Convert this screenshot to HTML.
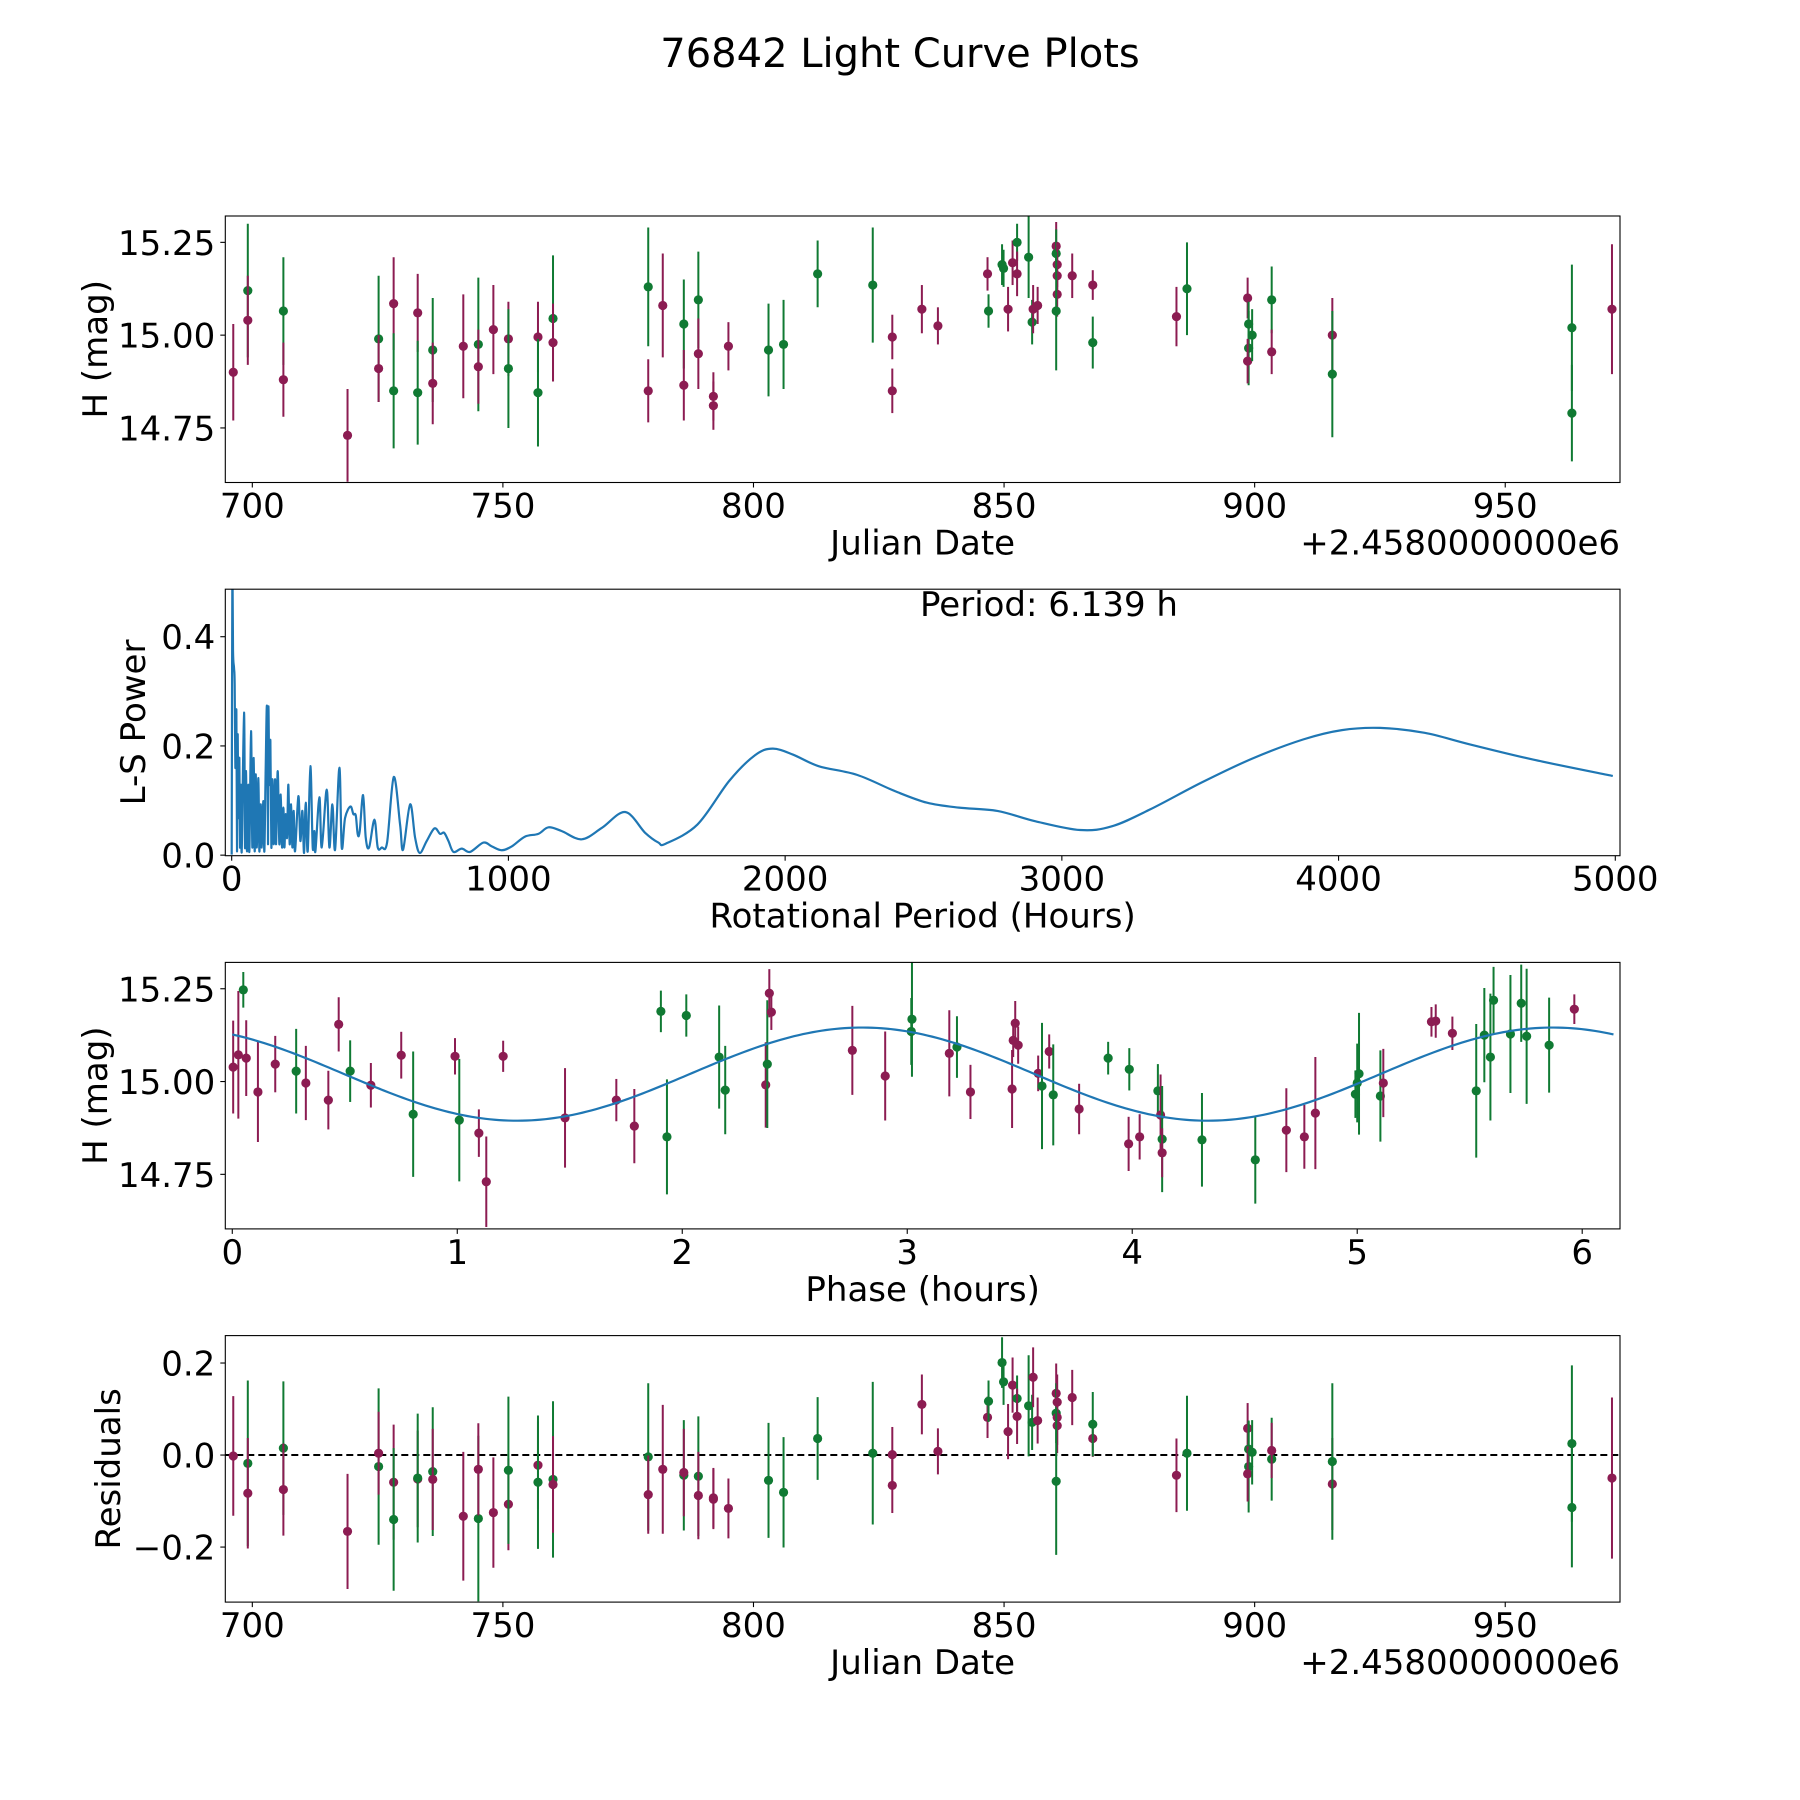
<!DOCTYPE html>
<html><head><meta charset="utf-8"><title>76842 Light Curve Plots</title>
<style>html,body{margin:0;padding:0;background:#fff}svg{display:block}text{font-family:"DejaVu Sans","Liberation Sans",sans-serif;fill:#000}</style>
</head><body>
<svg id="fig" xmlns="http://www.w3.org/2000/svg" width="1800" height="1800" viewBox="0 0 1800 1800">
<rect width="1800" height="1800" fill="#fff"/>
<text x="900" y="67" font-size="40" text-anchor="middle">76842 Light Curve Plots</text>
</svg>
<script>
// ---- Light curve data (JD offset from 2458000) ----
const jd = [696.2,699.1,699.1,706.2,706.2,719.0,725.2,725.2,728.2,728.2,733.0,733.0,736.0,736.0,742.1,745.1,745.1,748.1,751.1,751.1,757.0,757.0,760.0,760.0,779.0,779.0,781.9,786.1,786.1,789.0,789.0,792.0,792.0,795.0,803.0,806.0,812.8,823.8,827.7,827.7,833.6,836.8,846.7,846.9,849.6,849.9,850.8,851.7,852.6,852.6,854.9,855.6,855.8,856.7,860.4,860.4,860.6,860.6,860.6,860.4,863.6,867.7,867.7,884.4,886.5,898.6,898.8,898.8,898.6,899.5,903.4,903.4,915.5,915.5,963.3,963.3,971.3];
const mag = [14.90,15.12,15.04,15.065,14.88,14.73,14.99,14.91,15.085,14.85,15.06,14.845,14.96,14.87,14.97,14.975,14.915,15.015,14.99,14.91,14.995,14.845,15.045,14.98,15.13,14.85,15.08,15.03,14.865,15.095,14.95,14.835,14.81,14.97,14.96,14.975,15.165,15.135,14.995,14.85,15.07,15.025,15.165,15.065,15.19,15.18,15.07,15.195,15.25,15.165,15.21,15.035,15.07,15.08,15.24,15.22,15.19,15.16,15.11,15.065,15.16,15.135,14.98,15.05,15.125,15.10,15.03,14.965,14.93,15.00,15.095,14.955,15.00,14.895,15.02,14.79,15.07];
const magErr = [0.13,0.18,0.12,0.145,0.10,0.125,0.17,0.09,0.125,0.155,0.105,0.14,0.14,0.11,0.14,0.18,0.10,0.12,0.10,0.16,0.095,0.145,0.17,0.105,0.16,0.085,0.14,0.12,0.095,0.13,0.095,0.065,0.065,0.065,0.125,0.12,0.09,0.155,0.06,0.06,0.065,0.05,0.045,0.045,0.055,0.05,0.06,0.06,0.05,0.06,0.11,0.06,0.065,0.05,0.065,0.065,0.06,0.06,0.06,0.16,0.06,0.04,0.07,0.08,0.125,0.055,0.06,0.10,0.06,0.07,0.09,0.06,0.10,0.17,0.17,0.13,0.175];
const band = [0,1,0,1,0,0,1,0,0,1,0,1,1,0,0,1,0,0,0,1,0,1,1,0,1,0,0,1,0,1,0,0,0,0,1,1,1,1,0,0,0,0,0,1,1,1,0,0,1,0,1,1,0,0,0,1,0,0,0,1,0,0,1,0,1,0,1,1,0,1,1,0,0,1,1,1,0];
const resid = [-0.002,-0.018,-0.083,0.015,-0.075,-0.166,-0.025,0.004,-0.059,-0.14,-0.052,-0.05,-0.036,-0.053,-0.133,-0.138,-0.031,-0.125,-0.107,-0.033,-0.022,-0.059,-0.053,-0.064,-0.004,-0.086,-0.031,-0.044,-0.038,-0.046,-0.088,-0.093,-0.096,-0.116,-0.055,-0.081,0.036,0.004,0.001,-0.066,0.110,0.008,0.082,0.117,0.201,0.159,0.051,0.152,0.123,0.084,0.107,0.071,0.169,0.075,0.134,0.091,0.115,0.082,0.064,-0.057,0.125,0.036,0.067,-0.044,0.004,0.058,0.013,-0.025,-0.041,0.006,-0.009,0.010,-0.063,-0.014,0.025,-0.114,-0.050];
// ---- Phase-folded data ----
const phase = [0.004,0.027,0.049,0.062,0.114,0.191,0.284,0.327,0.427,0.473,0.524,0.616,0.751,0.804,0.990,1.009,1.096,1.129,1.204,1.479,1.707,1.787,1.905,1.932,2.018,2.164,2.191,2.371,2.378,2.387,2.396,2.756,2.902,3.021,3.018,3.187,3.221,3.281,3.466,3.471,3.480,3.493,3.582,3.599,3.631,3.649,3.764,3.893,3.987,3.984,4.033,4.114,4.126,4.133,4.133,4.310,4.547,4.685,4.765,4.814,4.992,5.000,5.008,5.103,5.116,5.330,5.349,5.423,5.529,5.565,5.592,5.606,5.681,5.729,5.753,5.853,5.965];
const phMag = [15.039,15.072,15.247,15.063,14.972,15.047,15.028,14.996,14.950,15.154,15.028,14.990,15.071,14.912,15.068,14.896,14.861,14.730,15.068,14.902,14.950,14.880,15.189,14.851,15.178,15.066,14.977,14.991,15.047,15.238,15.187,15.084,15.015,15.168,15.135,15.076,15.093,14.972,14.980,15.111,15.157,15.098,15.022,14.988,15.081,14.964,14.926,15.063,15.033,14.832,14.851,14.975,14.910,14.845,14.808,14.843,14.789,14.869,14.851,14.915,14.966,14.996,15.021,14.961,14.996,15.161,15.163,15.130,14.975,15.125,15.066,15.219,15.128,15.211,15.122,15.098,15.195];
const phErr = [0.125,0.172,0.048,0.102,0.135,0.076,0.114,0.10,0.079,0.073,0.083,0.060,0.063,0.169,0.049,0.165,0.064,0.122,0.042,0.134,0.057,0.10,0.056,0.155,0.057,0.139,0.119,0.115,0.172,0.065,0.048,0.12,0.12,0.155,0.09,0.116,0.083,0.073,0.105,0.045,0.06,0.05,0.048,0.17,0.046,0.136,0.068,0.044,0.057,0.073,0.061,0.072,0.109,0.143,0.066,0.126,0.118,0.113,0.086,0.151,0.064,0.106,0.164,0.123,0.092,0.04,0.045,0.045,0.18,0.127,0.171,0.09,0.159,0.104,0.182,0.128,0.04];
const phBand = [0,0,1,0,0,0,1,0,0,0,1,0,0,1,0,1,0,0,0,0,0,0,1,1,1,1,1,0,1,0,0,0,0,1,1,0,1,0,0,0,0,0,0,1,0,1,0,1,1,0,0,1,0,1,0,1,1,0,0,0,1,1,1,1,0,0,0,0,1,1,1,1,1,1,1,1,0];
// ---- Fitted sinusoid (model) ----
const fitMean = 15.02, fitAmp = 0.1255, fitPeak = 2.80, fitPeriod = 6.139;
// ---- Lomb-Scargle periodogram ----
const lsHours = [0,2.4,4.8,8.4,10.8,13.3,16.9,19.3,21.7,24.1,27.7,30.1,33.7,36.2,44.6,48.2,51.8,55.4,60.3,63.9,69.9,74.7,79.5,83.1,86.8,90.4,96.4,100,104.8,108.5,114.5,118.1,122.9,127.7,131.3,132.6,136.2,139.8,143.4,147,151.8,156.7,160.3,166.3,172.3,177.1,182,186.8,190.4,195.2,200,204.8,209.6,214.5,219.3,224.1,228.9,241,248.2,255.5,261.5,267.5,274.7,284.4,292.8,298.8,302.5,316.9,325.4,343.4,353.1,363.9,373.6,389.2,397.7,409.7,429,439.8,448.3,455.5,462.7,474.8,484.4,496.5,515.7,527.8,542.3,561.5,585.6,608.5,619.4,644.7,662.8,679.6,704.9,732.6,753.1,767.6,783.3,801.3,831.5,861.6,909.8,939.9,976.1,1012,1060,1108,1145,1193,1265,1338,1422,1494,1542,1568,1683,1798,1891,1955,2029,2121,2260,2398,2513,2628,2767,2905,3066,3182,3320,3505,3689,3873,4012,4150,4311,4473,4703,4991];
const lsPower = [0.001,0.52,0.374,0.343,0.313,0.160,0.264,0.007,0.221,0.068,0.178,0.014,0.129,0.007,0.261,0.014,0.154,0.007,0.129,0.007,0.227,0.014,0.178,0.007,0.148,0.014,0.141,0.007,0.093,0.014,0.099,0.007,0.160,0.270,0.020,0.271,0.129,0.209,0.014,0.139,0.020,0.139,0.020,0.154,0.020,0.111,0.014,0.087,0.014,0.075,0.032,0.129,0.020,0.093,0.014,0.081,0.007,0.108,0.026,0.081,0.004,0.096,0.007,0.163,0.014,0.044,0.007,0.106,0.014,0.120,0.014,0.093,0.010,0.160,0.014,0.068,0.089,0.075,0.073,0.038,0.044,0.110,0.032,0.014,0.065,0.014,0.014,0.023,0.143,0.056,0.010,0.093,0.032,0.004,0.026,0.049,0.039,0.041,0.026,0.006,0.012,0.006,0.023,0.016,0.009,0.016,0.034,0.039,0.051,0.044,0.029,0.050,0.079,0.041,0.023,0.021,0.056,0.136,0.183,0.195,0.184,0.163,0.147,0.117,0.096,0.087,0.081,0.062,0.046,0.053,0.084,0.133,0.177,0.212,0.229,0.233,0.224,0.203,0.175,0.145];
const jdTicks = [700,750,800,850,900,950];
const magTicks = [14.75,15.00,15.25];
const magTickLabels = ["14.75","15.00","15.25"];
const lsXTicks = [0,1000,2000,3000,4000,5000];
const lsYTicks = [0.0,0.2,0.4];
const lsYTickLabels = ["0.0","0.2","0.4"];
const phTicks = [0,1,2,3,4,5,6];
const resTicks = [-0.2,0.0,0.2];
const resTickLabels = ["\u22120.2","0.0","0.2"];

const NS = "http://www.w3.org/2000/svg";
const svg = document.getElementById("fig");
const COL = ["#8c1c52","#107a33"];
const L = 225.3, R = 1620, H = 266.5;
const tops = [216, 589.2, 962.4, 1335.6];
function mk(tag, attrs, parent){ const e=document.createElementNS(NS,tag); for(const k in attrs) e.setAttribute(k,attrs[k]); (parent||svg).appendChild(e); return e; }
function lin(d0,d1,r0,r1){ return v => r0 + (v-d0)*(r1-r0)/(d1-d0); }

function makePanel(i, xd, yd, name){
  const top = tops[i], bot = top+H;
  const g = mk("g",{});
  
  
  const cp = mk("clipPath",{id:"clip"+i}, g);
  mk("rect",{x:L,y:top,width:R-L,height:H}, cp);
  const plot = mk("g",{"clip-path":"url(#clip"+i+")"}, g);
  
  
  return {g, plot, top, bot, x: lin(xd[0],xd[1],L,R), y: lin(yd[0],yd[1],bot,top)};
}
function frame(p, name){
  const r = mk("rect",{x:L,y:p.top,width:R-L,height:H,fill:"none",stroke:"#000","stroke-width":1.1}, p.g);
  
  
}
function xTicks(p, vals, labels, name){
  vals.forEach((v,k)=>{
    const X = p.x(v);
    const t = mk("line",{x1:X,x2:X,y1:p.bot,y2:p.bot+5,stroke:"#000","stroke-width":1.1}, p.g);
    
    
    const tx = mk("text",{x:X,y:p.bot+35,"font-size":34,"text-anchor":"middle"}, p.g);
    tx.textContent = labels[k];
    
    
  });
}
function yTicks(p, vals, labels, name){
  vals.forEach((v,k)=>{
    const Y = p.y(v);
    const t = mk("line",{x1:L-5,x2:L,y1:Y,y2:Y,stroke:"#000","stroke-width":1.1}, p.g);
    
    
    const tx = mk("text",{x:L-10,y:Y+12.5,"font-size":34,"text-anchor":"end"}, p.g);
    tx.textContent = labels[k];
    
    
  });
}
function labels(p, xl, yl, ylx, name, offset){
  const a = mk("text",{x:(L+R)/2,y:p.bot+72,"font-size":34,"text-anchor":"middle"}, p.g);
  a.textContent = xl;
  
  
  const cy = (p.top+p.bot)/2;
  const b = mk("text",{x:ylx,y:cy,"font-size":34,"text-anchor":"middle",transform:"rotate(-90 "+ylx+" "+cy+")"}, p.g);
  b.textContent = yl;
  
  
  if(offset){
    const o = mk("text",{x:R,y:p.bot+72,"font-size":34,"text-anchor":"end"}, p.g);
    o.textContent = offset;
    
    
  }
}
function errPoints(p, xs, ys, es, bs, name){
  xs.forEach((xv,k)=>{
    const X = p.x(xv);
    const ln = mk("line",{x1:X,x2:X,y1:p.y(ys[k]-es[k]),y2:p.y(ys[k]+es[k]),stroke:COL[bs[k]],"stroke-width":2}, p.plot);
    
    
    const c = mk("circle",{cx:X,cy:p.y(ys[k]),r:4.6,fill:COL[bs[k]]}, p.plot);
    
    
  });
}

// Panel 1: light curve
const p1 = makePanel(0,[694.61,972.9],[14.603,15.321],"light-curve-panel");
errPoints(p1, jd, mag, magErr, band, "light-curve");
frame(p1,"light-curve");
xTicks(p1, jdTicks, jdTicks.map(String), "light-curve");
yTicks(p1, magTicks, magTickLabels, "light-curve");
labels(p1, "Julian Date", "H (mag)", 107, "light-curve", "+2.4580000000e6");

// Panel 2: periodogram (Catmull-Rom smoothed through read points)
const p2 = makePanel(1,[-23.1,5017],[-0.001,0.487],"periodogram-panel");
const pts = lsHours.map((h,k)=>[p2.x(h), p2.y(lsPower[k])]);
let lsPath = "M"+pts[0][0].toFixed(2)+","+pts[0][1].toFixed(2);
for(let k=0;k<pts.length-1;k++){
  const a=pts[Math.max(0,k-1)], b=pts[k], c=pts[k+1], d=pts[Math.min(pts.length-1,k+2)];
  const c1=[b[0]+(c[0]-a[0])/6, b[1]+(c[1]-a[1])/6], c2=[c[0]-(d[0]-b[0])/6, c[1]-(d[1]-b[1])/6];
  lsPath += "C"+c1[0].toFixed(2)+","+c1[1].toFixed(2)+" "+c2[0].toFixed(2)+","+c2[1].toFixed(2)+" "+c[0].toFixed(2)+","+c[1].toFixed(2);
}
const lsLine = mk("path",{d:lsPath,fill:"none",stroke:"#1f77b4","stroke-width":2.2,"stroke-linejoin":"round"}, p2.plot);


frame(p2,"periodogram");
xTicks(p2, lsXTicks, lsXTicks.map(String), "periodogram");
yTicks(p2, lsYTicks, lsYTickLabels, "periodogram");
labels(p2, "Rotational Period (Hours)", "L-S Power", 145, "periodogram");
const per = mk("text",{x:1049,y:616,"font-size":34,"text-anchor":"middle"}, p2.g);
per.textContent = "Period: " + fitPeriod.toFixed(3) + " h";



// Panel 3: phase-folded
const p3 = makePanel(2,[-0.031,6.168],[14.603,15.321],"phase-panel");
errPoints(p3, phase, phMag, phErr, phBand, "phase");
let fp = "";
for(let k=0;k<=300;k++){ const ph = fitPeriod*k/300; const m = fitMean + fitAmp*Math.cos(2*Math.PI*(ph-fitPeak)/(fitPeriod/2)); fp += (k?"L":"M")+p3.x(ph).toFixed(2)+","+p3.y(m).toFixed(2); }
const fitLine = mk("path",{d:fp,fill:"none",stroke:"#1f77b4","stroke-width":2.2}, p3.plot);


frame(p3,"phase");
xTicks(p3, phTicks, phTicks.map(String), "phase");
yTicks(p3, magTicks, magTickLabels, "phase");
labels(p3, "Phase (hours)", "H (mag)", 107, "phase");

// Panel 4: residuals
const p4 = makePanel(3,[694.61,972.9],[-0.3196,0.2596],"residuals-panel");
const zl = mk("line",{x1:L,x2:R,y1:p4.y(0),y2:p4.y(0),stroke:"#000","stroke-width":2,"stroke-dasharray":"7,4"}, p4.plot);


errPoints(p4, jd, resid, magErr, band, "residual");
frame(p4,"residuals");
xTicks(p4, jdTicks, jdTicks.map(String), "residuals");
yTicks(p4, resTicks, resTickLabels, "residuals");
labels(p4, "Julian Date", "Residuals", 120, "residuals", "+2.4580000000e6");
</script>
</body></html>
